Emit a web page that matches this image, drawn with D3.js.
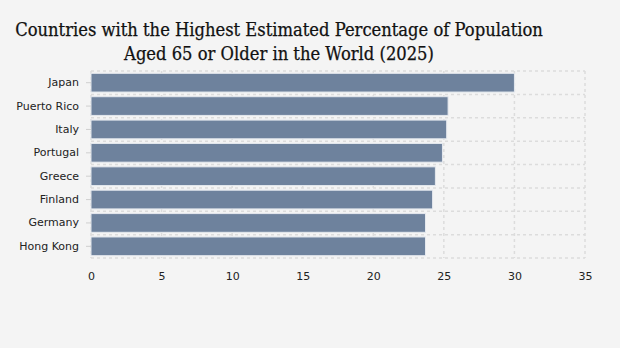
<!DOCTYPE html>
<html>
<head>
<meta charset="utf-8">
<script src="https://cdn.jsdelivr.net/npm/d3@7"></script>
<style>
    body { margin: 0; background: #f4f4f4; }
    svg { display: block; }
</style>
</head>
<body>
<div id="chart"></div>
<script>
const countries = ["Japan", "Puerto Rico", "Italy", "Portugal", "Greece", "Finland", "Germany", "Hong Kong"];
const shares = [30.0, 25.3, 25.2, 24.9, 24.4, 24.2, 23.7, 23.7];
const xTicks = [0, 5, 10, 15, 20, 25, 30, 35];
const titleLines = [
    "Countries with the Highest Estimated Percentage of Population",
    "Aged 65 or Older in the World (2025)"
];

const width = 620, height = 348;
const margin = { top: 71, right: 35, bottom: 90, left: 91 };
const innerW = width - margin.left - margin.right;
const innerH = height - margin.top - margin.bottom;

const svg = d3.select("#chart").append("svg")
    .attr("width", width)
    .attr("height", height);

svg.append("rect")
    .attr("width", width)
    .attr("height", height)
    .attr("fill", "#f4f4f4");

svg.append("text")
    .attr("x", 279)
    .attr("y", 36)
    .attr("text-anchor", "middle")
    .attr("font-family", "'DejaVu Serif Condensed', 'DejaVu Serif', serif")
    .attr("font-size", 18.2)
    .attr("fill", "#111")
    .attr("stroke", "#111")
    .attr("stroke-width", 0.25)
    .selectAll("tspan")
    .data(titleLines)
    .join("tspan")
    .attr("x", 279)
    .attr("dy", (d, i) => i === 0 ? 0 : 24)
    .text(d => d);

const g = svg.append("g")
    .attr("transform", `translate(${margin.left},${margin.top})`);

const x = d3.scaleLinear()
    .domain([0, 35])
    .range([0, innerW]);

const y = d3.scaleBand()
    .domain(countries)
    .range([0, innerH])
    .paddingInner(0.2)
    .paddingOuter(0.1);

// dashed grid: vertical at ticks, horizontal at band edges
const gridColor = "#dcdcdc";
g.append("g")
    .selectAll("line")
    .data(xTicks)
    .join("line")
    .attr("x1", d => x(d))
    .attr("x2", d => x(d))
    .attr("y1", 0)
    .attr("y2", innerH)
    .attr("stroke", gridColor)
    .attr("stroke-width", 1.5)
    .attr("stroke-dasharray", "3,3");

const edges = d3.range(countries.length + 1).map(i => i * innerH / countries.length);
g.append("g")
    .selectAll("line")
    .data(edges)
    .join("line")
    .attr("x1", 0)
    .attr("x2", innerW)
    .attr("y1", d => d)
    .attr("y2", d => d)
    .attr("stroke", gridColor)
    .attr("stroke-width", 1.5)
    .attr("stroke-dasharray", "3,3");

g.selectAll(".bar")
    .data(countries)
    .join("rect")
    .attr("class", "bar")
    .attr("x", 0)
    .attr("y", d => y(d))
    .attr("width", (d, i) => x(shares[i]))
    .attr("height", y.bandwidth())
    .attr("fill", "#6e829d")
    .attr("stroke", "#e4e8ee")
    .attr("stroke-width", 1);

const yAxis = g.append("g")
    .call(d3.axisLeft(y).tickSize(5).tickPadding(7));
yAxis.select(".domain").remove();
yAxis.selectAll(".tick line").attr("stroke", "#cfcfcf");
yAxis.selectAll(".tick text")
    .attr("font-family", "'DejaVu Sans', Verdana, sans-serif")
    .attr("font-size", 11)
    .attr("fill", "#222");

const xAxis = g.append("g")
    .attr("transform", `translate(0,${innerH})`)
    .call(d3.axisBottom(x).tickValues(xTicks).tickSize(0).tickPadding(14));
xAxis.select(".domain").remove();
xAxis.selectAll(".tick text")
    .attr("font-family", "'DejaVu Sans', Verdana, sans-serif")
    .attr("font-size", 11)
    .attr("fill", "#222");
</script>
</body>
</html>
